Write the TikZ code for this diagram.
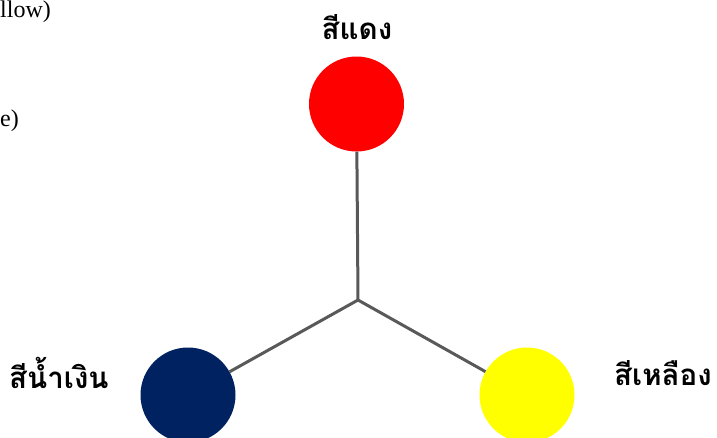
\documentclass[tikz,border=0pt]{standalone}
\usepackage{fontspec}
\setmainfont{Liberation Serif}
\newfontfamily\thaifont[Script=Thai]{Loma}
\begin{document}
\begin{tikzpicture}[x=1pt,y=-1pt,
  dot/.style={circle,inner sep=0pt,minimum size=95pt},
  link/.style={draw=black!65,line width=3pt},
  thai/.style={font=\thaifont\bfseries\fontsize{29.5}{33}\selectfont,inner sep=0pt},
  cut/.style={font=\fontsize{24}{27}\selectfont,inner sep=0pt}]
\useasboundingbox (0,0) rectangle (717,437);
\coordinate (j) at (358,300);
\node[dot,fill=red] (r) at (356.5,104) {};
\node[dot,fill={rgb,255:red,0;green,34;blue,96}] (b) at (188,395) {};
\node[dot,fill={rgb,255:red,255;green,255;blue,0}] (y) at (527,395) {};
\draw[link] (j) -- (r);
\draw[link] (j) -- (b);
\draw[link] (j) -- (y);
\node[thai] (tr) at (357,27) {สีแดง};
\node[thai,anchor=west] (tb) at (9,373) {สีน้ำเงิน};
\node[thai,anchor=west] (ty) at (614,373) {สีเหลือง};
\node[cut,anchor=north west] (c1) at (0,0.5) {llow)};
\node[cut,anchor=west] (c2) at (0,121) {e)};
\end{tikzpicture}
\end{document}
